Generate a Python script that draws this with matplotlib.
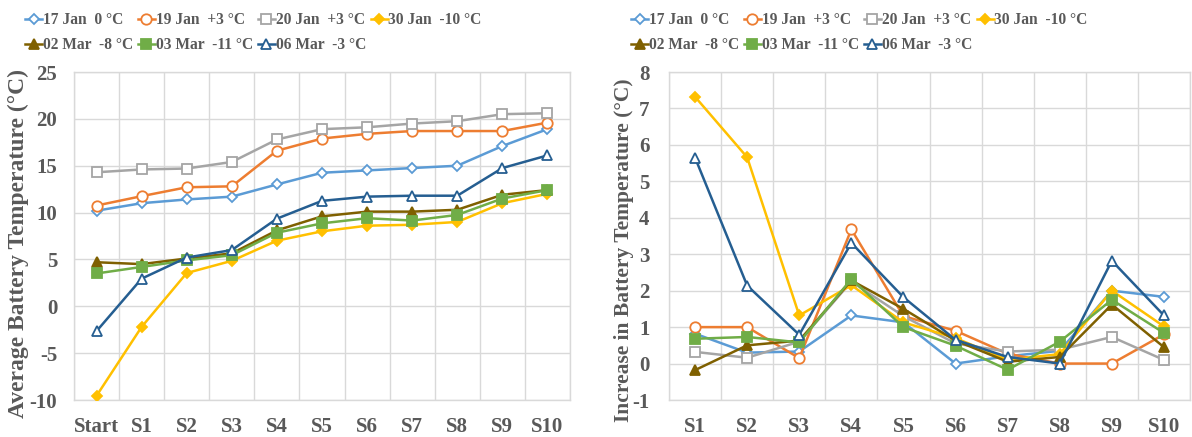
import matplotlib
matplotlib.use("Agg")
import matplotlib.pyplot as plt

# ---------------- data ----------------
cats_left = ['Start', 'S1', 'S2', 'S3', 'S4', 'S5', 'S6', 'S7', 'S8', 'S9', 'S10']
cats_right = ['S1', 'S2', 'S3', 'S4', 'S5', 'S6', 'S7', 'S8', 'S9', 'S10']

series_names = ['17 Jan  0 °C', '19 Jan  +3 °C', '20 Jan  +3 °C', '30 Jan  -10 °C',
                '02 Mar  -8 °C', '03 Mar  -11 °C', '06 Mar  -3 °C']

# average battery temperature (°C)
avg_jan17 = [10.2, 11.0, 11.4, 11.7, 13.0, 14.25, 14.5, 14.75, 15.0, 17.1, 18.9]
avg_jan19 = [10.75, 11.75, 12.7, 12.8, 16.6, 17.9, 18.4, 18.7, 18.7, 18.7, 19.6]
avg_jan20 = [14.3, 14.6, 14.7, 15.4, 17.8, 18.9, 19.1, 19.5, 19.75, 20.5, 20.6]
avg_jan30 = [-9.55, -2.2, 3.55, 4.85, 7.0, 8.0, 8.6, 8.7, 9.0, 11.0, 12.0]
avg_mar02 = [4.7, 4.5, 5.1, 5.65, 8.1, 9.6, 10.1, 10.1, 10.3, 11.9, 12.4]
avg_mar03 = [3.5, 4.2, 4.9, 5.45, 7.85, 8.85, 9.4, 9.15, 9.75, 11.5, 12.4]
avg_mar06 = [-2.65, 2.95, 5.2, 6.0, 9.35, 11.25, 11.7, 11.8, 11.8, 14.75, 16.1]

# increase in battery temperature (°C)
inc_jan17 = [0.82, 0.3, 0.33, 1.32, 1.13, 0.0, 0.2, 0.35, 2.0, 1.83]
inc_jan19 = [1.0, 1.0, 0.15, 3.68, 1.3, 0.9, 0.27, 0.0, 0.0, 0.8]
inc_jan20 = [0.32, 0.16, 0.6, 2.25, 1.3, 0.55, 0.33, 0.38, 0.73, 0.1]
inc_jan30 = [7.32, 5.66, 1.32, 2.15, 1.13, 0.7, 0.1, 0.26, 2.0, 1.02]
inc_mar02 = [-0.18, 0.5, 0.63, 2.28, 1.5, 0.63, 0.05, 0.18, 1.62, 0.45]
inc_mar03 = [0.68, 0.73, 0.58, 2.32, 1.0, 0.49, -0.17, 0.6, 1.75, 0.84]
inc_mar06 = [5.65, 2.14, 0.79, 3.31, 1.82, 0.65, 0.18, 0.0, 2.82, 1.32]

avg_series = [avg_jan17, avg_jan19, avg_jan20, avg_jan30, avg_mar02, avg_mar03, avg_mar06]
inc_series = [inc_jan17, inc_jan19, inc_jan20, inc_jan30, inc_mar02, inc_mar03, inc_mar06]

# ---------------- styles ----------------
colors = ['#5B9BD5', '#ED7D31', '#A5A5A5', '#FFC000', '#7F6000', '#70AD47', '#255E91']
markers = ['D', 'o', 's', 'D', '^', 's', '^']
filled = [False, False, False, True, True, True, False]
msizes = [5.5, 7.5, 7, 5.5, 7, 7, 7.5]

TXT = '#595959'
GRID = '#D9D9D9'
FONT = ['Liberation Serif', 'DejaVu Serif']

plt.rcParams['font.family'] = FONT
plt.rcParams['font.weight'] = 'bold'
plt.rcParams['axes.unicode_minus'] = False

fig = plt.figure(figsize=(11.92, 4.37), dpi=100)
W, H = 1192.0, 437.0

def ax_rect(x0, x1, ytop, ybot):
    return [x0 / W, 1 - ybot / H, (x1 - x0) / W, (ybot - ytop) / H]

L_X0, L_X1 = 74, 570
R_X0, R_X1 = 669, 1190
Y_TOP, Y_BOT = 72, 400
axL = fig.add_axes(ax_rect(L_X0, L_X1, Y_TOP, Y_BOT))
axR = fig.add_axes(ax_rect(R_X0, R_X1, Y_TOP, Y_BOT))

def style_axes(ax, ncat, cats, ylim, yticks, ypad):
    ax.set_xlim(-0.5, ncat - 0.5)
    ax.set_ylim(*ylim)
    ax.set_yticks(yticks)
    ax.set_xticks(range(ncat))
    ax.set_xticklabels(cats)
    ax.set_xticks([k + 0.5 for k in range(-1, ncat)], minor=True)
    ax.grid(True, axis='y', which='major', color=GRID, lw=1.0)
    ax.grid(True, axis='x', which='minor', color=GRID, lw=1.0)
    ax.grid(False, axis='x', which='major')
    ax.set_axisbelow(True)
    for s in ax.spines.values():
        s.set_color(GRID)
        s.set_linewidth(1.0)
    ax.tick_params(axis='both', which='both', length=0, colors=TXT, labelsize=15)
    ax.tick_params(axis='x', pad=12)
    ax.tick_params(axis='y', pad=ypad)
    for lab in ax.get_xticklabels() + ax.get_yticklabels():
        lab.set_fontweight('bold')

def plot_series(ax, data_list):
    handles = []
    for i, d in enumerate(data_list):
        x = list(range(len(d)))
        mfc = colors[i] if filled[i] else 'white'
        h, = ax.plot(x, d, color=colors[i], lw=1.8, marker=markers[i], ms=msizes[i],
                     mfc=mfc, mec=colors[i], mew=1.3, label=series_names[i], zorder=3 + i)
        handles.append(h)
    return handles

hL = plot_series(axL, avg_series)
hR = plot_series(axR, inc_series)

style_axes(axL, len(cats_left), cats_left, (-10, 25), list(range(-10, 26, 5)), 12)
style_axes(axR, len(cats_right), cats_right, (-1, 8), list(range(-1, 9)), 14)

axL.set_ylabel('Average Battery Temperature (°C)', fontsize=17, color=TXT,
               fontweight='bold', va='center')
axL.yaxis.set_label_coords((18 - L_X0) / (L_X1 - L_X0), (Y_BOT - 244) / (Y_BOT - Y_TOP))
axR.set_ylabel('Increase in Battery Temperature (°C)', fontsize=15.5, color=TXT,
               fontweight='bold', va='center')
axR.yaxis.set_label_coords((624 - R_X0) / (R_X1 - R_X0), (Y_BOT - 250) / (Y_BOT - Y_TOP))

def add_legend(handles, x_px):
    order = [0, 4, 1, 5, 2, 6, 3]
    hs = [handles[k] for k in order]
    ls = [series_names[k] for k in order]
    leg = fig.legend(hs, ls, loc='upper left', bbox_to_anchor=(x_px / W, 1 - 12 / H),
                     ncol=4, frameon=False, handlelength=1.1,
                     handletextpad=0.05, columnspacing=0.3, labelspacing=0.6,
                     borderaxespad=0, borderpad=0,
                     prop={'family': FONT, 'weight': 'bold', 'size': 11.2})
    for t in leg.get_texts():
        t.set_color(TXT)
    return leg

add_legend(hL, 25)
add_legend(hR, 631)

fig.savefig('out.png', dpi=100)
